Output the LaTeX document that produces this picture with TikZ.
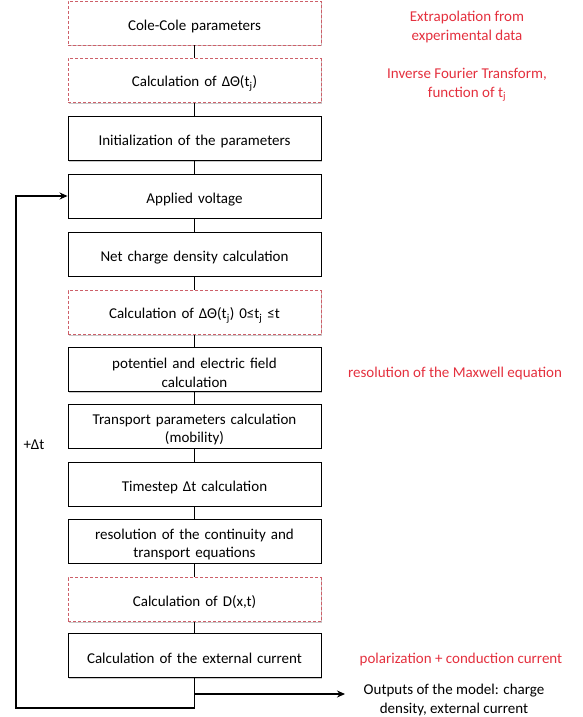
\documentclass[tikz,border=0pt]{standalone}
\usepackage{fontspec}
\setmainfont{Carlito}
\usetikzlibrary{arrows.meta,shadows}
\definecolor{annot}{RGB}{228,48,62}
\definecolor{dashc}{RGB}{205,95,105}
\begin{document}
\begin{tikzpicture}[x=1pt,y=-1pt,
  every node/.style={font=\fontsize{15}{18.3}\selectfont},
  stepbox/.style={draw=black, fill=white, line width=0.9pt, minimum width=253pt, minimum height=44pt, align=center, text width=240pt, inner sep=0pt,
    execute at begin node={\rule{0pt}{17pt}},
    drop shadow={shadow xshift=0.8pt, shadow yshift=-1.2pt, opacity=0.35, fill=black!60}},
  dashbox/.style={stepbox, draw=dashc, line width=0.6pt, dash pattern=on 3pt off 2pt, drop shadow={shadow xshift=0.6pt, shadow yshift=-0.8pt, opacity=0.15, fill=dashc}},
  conn/.style={line width=1.8pt},
  looparrow/.style={line width=1.6pt, -{Stealth[length=8pt,width=7pt]}},
  note/.style={text=annot, align=center}]
\useasboundingbox (0,0) rectangle (583,717);

\node[dashbox] (b1) at (194.5,23) {Cole-Cole parameters};
\node[dashbox] (b2) at (194.5,80.5) {Calculation of ΔΘ(t\textsubscript{j})};
\node[stepbox] (b3) at (194.5,138.5) {Initialization of the parameters};
\node[stepbox] (b4) at (194.5,196) {Applied voltage};
\node[stepbox] (b5) at (194.5,254) {Net charge density calculation};
\node[dashbox] (b6) at (194.5,312.5) {Calculation of ΔΘ(t\textsubscript{j}) 0≤t\textsubscript{j} ≤t};
\node[stepbox] (b7) at (194.5,369.5) {potentiel and electric field\\calculation};
\node[stepbox] (b8) at (194.5,426) {Transport parameters calculation\\(mobility)};
\node[stepbox] (b9) at (194.5,484) {Timestep Δt calculation};
\node[stepbox] (b10) at (194.5,541) {resolution of the continuity and\\transport equations};
\node[dashbox] (b11) at (194.5,599.5) {Calculation of D(x,t)};
\node[stepbox] (b12) at (194.5,655.5) {Calculation of the external current};

\foreach \a/\b in {b1/b2,b2/b3,b3/b4,b4/b5,b5/b6,b6/b7,b7/b8,b8/b9,b9/b10,b10/b11,b11/b12}
  \draw[conn] (\a.south) -- (\b.north);

\node[note] (n1) at (467,27) {Extrapolation from\\experimental data};
\node[note] (n2) at (467,85) {Inverse Fourier Transform,\\function of t\textsubscript{j}};
\node[note] (n3) at (455,373) {resolution of the Maxwell equation};
\node[note] (n4) at (461,659) {polarization + conduction current};
\node[align=center] (out) at (454,700) {Outputs of the model: charge\\density, external current};
\node (dt) at (34,445) {+Δt};

\coordinate (lb) at (194.5,708);
\coordinate (ll) at (16,708);
\coordinate (lt) at (16,196);
\draw[looparrow] (b12.south) -- (lb) -- (ll) -- (lt) -- (b4.west);

\coordinate (oa) at (194.5,694);
\coordinate (oe) at (345,694);
\draw[looparrow] (oa) -- (oe);
\end{tikzpicture}
\end{document}
